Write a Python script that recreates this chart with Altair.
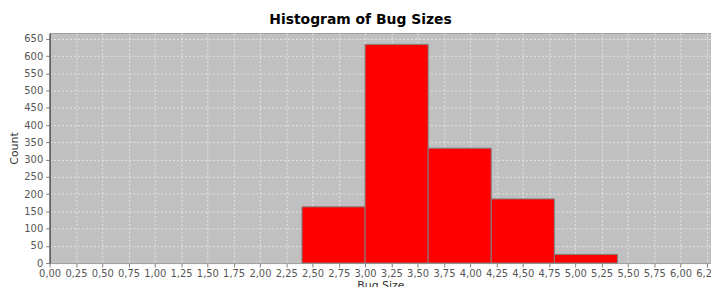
import altair as alt
import pandas as pd

bin_start = [2.4, 3.0, 3.6, 4.2, 4.8]
bin_end = [3.0, 3.6, 4.2, 4.8, 5.4]
counts = [163, 634, 333, 186, 25]
x_ticks = [i * 0.25 for i in range(26)]
y_ticks = list(range(0, 651, 50))

df = pd.DataFrame({"start": bin_start, "end": bin_end, "count": counts})

bars = alt.Chart(df).mark_rect(
    color="#ff0000", stroke="#808080", strokeWidth=1
).encode(
    x=alt.X("start:Q",
            scale=alt.Scale(domain=[0, 6.29], nice=False, zero=False),
            axis=alt.Axis(
                values=x_ticks,
                labelExpr="replace(format(datum.value, '.2f'), '.', ',')",
                title="Bug Size",
                titleAnchor="middle",
                titleFontWeight="normal",
                titleFontSize=11,
                titleColor="#333333",
                titlePadding=1,
                labelFontSize=10,
                labelColor="#555555",
                labelPadding=2,
                tickSize=4,
                tickColor="#808080",
                domainColor="#a0a0a0",
                grid=True,
                gridColor="#e4e4e4",
                gridDash=[2, 2],
                labelFlush=False,
                labelOverlap=False,
            )),
    x2="end:Q",
    y=alt.Y("count:Q",
            scale=alt.Scale(domain=[0, 667], nice=False),
            axis=alt.Axis(
                values=y_ticks,
                title="Count",
                titleFontWeight="normal",
                titleFontSize=11,
                titleColor="#333333",
                titlePadding=4,
                labelFontSize=10,
                labelColor="#555555",
                labelPadding=3,
                tickSize=4,
                tickColor="#808080",
                domainColor="#555555",
                domainWidth=1.5,
                grid=True,
                gridColor="#e4e4e4",
                gridDash=[2, 2],
                labelOverlap=False,
            )),
    y2=alt.Y2(datum=0),
)

chart = bars.properties(
    width=667,
    height=232,
    title=alt.TitleParams(
        "Histogram of Bug Sizes",
        fontSize=14,
        fontWeight="bold",
        font="DejaVu Sans",
        color="#000000",
        anchor="middle",
        dx=-20,
        offset=6,
    ),
    autosize=alt.AutoSizeParams(type="none"),
    padding={"left": 42, "top": 24, "right": 0, "bottom": 30},
).configure(
    font="DejaVu Sans"
).configure_view(
    fill="#c0c0c0", stroke="#a0a0a0"
)

chart.save("out.html", embed_options={"renderer": "svg", "actions": False})
